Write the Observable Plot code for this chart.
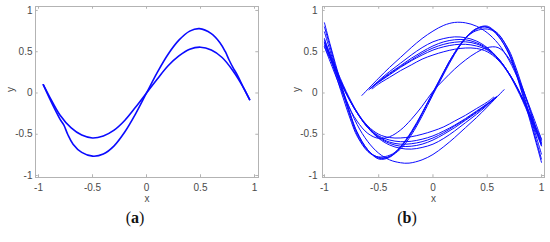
<!DOCTYPE html>
<html>
<head>
<meta charset="utf-8">
<script src="https://cdn.jsdelivr.net/npm/d3@7"></script>
<script src="https://cdn.jsdelivr.net/npm/@observablehq/plot@0.6"></script>
<style>
  body { margin: 0; background: #fff; }
  #wrap { position: relative; width: 550px; height: 242px; overflow: hidden; background: #fff; }
  .panel { position: absolute; top: 0; }
  .cap { position: absolute; top: 209px; width: 40px; margin-left: -20px; text-align: center;
         font-family: "Liberation Serif", "DejaVu Serif", serif; font-size: 16px; color: #111; }
</style>
</head>
<body>
<div id="wrap">
  <div id="pa" class="panel" style="left:0px"></div>
  <div id="pb" class="panel" style="left:275px"></div>
  <div class="cap" style="left:135px">(<b>a</b>)</div>
  <div class="cap" style="left:407px">(<b>b</b>)</div>
</div>
<script>
// ---------- tick values ----------
const xTicks = [-1, -0.5, 0, 0.5, 1];
const yTicks = [-1, -0.5, 0, 0.5, 1];
const xLabel = "x";
const yLabel = "y";

// ---------- panel (a) ----------
const aInner = [[-0.956,0.10],[-0.9,-0.04],[-0.8,-0.27],[-0.7,-0.42],[-0.6,-0.51],[-0.5,-0.545],[-0.4,-0.52],[-0.3,-0.45],[-0.2,-0.33],[-0.1,-0.17],[0,0.0],[0.1,0.17],[0.2,0.33],[0.3,0.45],[0.4,0.53],[0.5,0.555],[0.6,0.52],[0.7,0.43],[0.8,0.27],[0.9,0.06],[0.955,-0.08]];
const aOuter = [[-0.956,0.10],[-0.9,-0.06],[-0.84,-0.22],[-0.8,-0.32],[-0.765,-0.39],[-0.73,-0.50],[-0.68,-0.62],[-0.6,-0.72],[-0.5,-0.765],[-0.4,-0.74],[-0.3,-0.64],[-0.2,-0.47],[-0.1,-0.25],[0,0.0],[0.1,0.25],[0.2,0.47],[0.3,0.64],[0.4,0.75],[0.49,0.78],[0.6,0.72],[0.68,0.61],[0.73,0.50],[0.765,0.40],[0.8,0.31],[0.84,0.22],[0.9,0.06],[0.955,-0.08]];

// ---------- panel (b) ----------
const bN1 = [[-1,0.85],[-0.95,0.60],[-0.9,0.36],[-0.85,0.13],[-0.8,-0.09],[-0.75,-0.30],[-0.7,-0.47],[-0.6,-0.69],[-0.5,-0.80],[-0.4,-0.78],[-0.3,-0.66],[-0.2,-0.48],[-0.1,-0.25],[0,0.0],[0.1,0.25],[0.2,0.48],[0.3,0.66],[0.4,0.78],[0.5,0.81],[0.6,0.70],[0.7,0.47],[0.75,0.30],[0.8,0.09],[0.85,-0.13],[0.9,-0.36],[0.95,-0.60],[1,-0.84]];
const bN2 = [[-1,0.74],[-0.95,0.52],[-0.9,0.30],[-0.85,0.08],[-0.8,-0.13],[-0.75,-0.33],[-0.7,-0.50],[-0.6,-0.70],[-0.5,-0.78],[-0.42,-0.78],[-0.3,-0.68],[-0.2,-0.51],[-0.1,-0.28],[0,-0.02],[0.1,0.23],[0.2,0.47],[0.3,0.66],[0.4,0.77],[0.48,0.80],[0.6,0.72],[0.7,0.50],[0.75,0.33],[0.8,0.13],[0.85,-0.08],[0.9,-0.30],[0.95,-0.52],[1,-0.74]];
const bN3 = [[-1,0.62],[-0.95,0.44],[-0.9,0.24],[-0.85,0.03],[-0.8,-0.17],[-0.75,-0.36],[-0.7,-0.52],[-0.6,-0.71],[-0.52,-0.77],[-0.44,-0.77],[-0.35,-0.72],[-0.25,-0.58],[-0.15,-0.38],[-0.05,-0.12],[0.05,0.12],[0.15,0.38],[0.25,0.58],[0.35,0.72],[0.44,0.77],[0.52,0.77],[0.6,0.71],[0.7,0.52],[0.75,0.36],[0.8,0.17],[0.85,-0.03],[0.9,-0.24],[0.95,-0.44],[1,-0.62]];
const bN4 = [[-1,0.80],[-0.95,0.57],[-0.9,0.33],[-0.85,0.10],[-0.8,-0.11],[-0.75,-0.31],[-0.7,-0.48],[-0.6,-0.69],[-0.5,-0.79],[-0.4,-0.77],[-0.3,-0.65],[-0.2,-0.47],[-0.1,-0.24],[0,0.01],[0.1,0.26],[0.2,0.49],[0.3,0.67],[0.4,0.78],[0.5,0.80],[0.6,0.69],[0.7,0.48],[0.75,0.31],[0.8,0.11],[0.85,-0.10],[0.9,-0.33],[0.95,-0.57],[1,-0.80]];
const bInner = [[-1,0.56],[-0.9,0.22],[-0.8,-0.10],[-0.7,-0.34],[-0.6,-0.49],[-0.5,-0.55],[-0.4,-0.53],[-0.3,-0.45],[-0.2,-0.32],[-0.1,-0.16],[0,0.02],[0.1,0.16],[0.2,0.29],[0.3,0.40],[0.4,0.49],[0.5,0.55],[0.6,0.55],[0.7,0.42],[0.8,0.14],[0.9,-0.20],[1,-0.56]];
const bTop = [[-0.655,-0.03],[-0.5,0.18],[-0.4,0.31],[-0.3,0.43],[-0.2,0.55],[-0.1,0.66],[0,0.75],[0.1,0.82],[0.2,0.855],[0.3,0.85],[0.4,0.81],[0.5,0.73],[0.6,0.60],[0.7,0.40],[0.8,0.12],[0.9,-0.22],[0.95,-0.43],[1,-0.64]];
const bBot = [[0.655,0.04],[0.5,-0.17],[0.4,-0.30],[0.3,-0.42],[0.2,-0.54],[0.1,-0.65],[0,-0.745],[-0.1,-0.81],[-0.22,-0.85],[-0.3,-0.845],[-0.4,-0.81],[-0.5,-0.73],[-0.6,-0.59],[-0.7,-0.38],[-0.8,-0.08],[-0.9,0.26],[-0.95,0.46],[-1,0.66]];
const bUp1 = [[-0.59,0.04],[-0.5,0.15],[-0.4,0.26],[-0.3,0.36],[-0.2,0.46],[-0.1,0.55],[0,0.62],[0.1,0.66],[0.2,0.68],[0.3,0.67],[0.4,0.63],[0.5,0.55],[0.6,0.42],[0.7,0.23],[0.8,-0.02],[0.9,-0.32],[0.95,-0.48],[1,-0.64]];
const bUp2 = [[-0.58,0.05],[-0.5,0.14],[-0.4,0.24],[-0.3,0.33],[-0.2,0.42],[-0.1,0.50],[0,0.57],[0.1,0.62],[0.2,0.645],[0.3,0.645],[0.4,0.61],[0.5,0.54],[0.6,0.42],[0.7,0.24],[0.8,0.0],[0.9,-0.30],[0.95,-0.46],[1,-0.61]];
const bUp3 = [[-0.57,0.06],[-0.5,0.13],[-0.4,0.22],[-0.3,0.31],[-0.2,0.39],[-0.1,0.46],[0,0.52],[0.1,0.56],[0.2,0.585],[0.3,0.59],[0.4,0.57],[0.5,0.52],[0.6,0.41],[0.7,0.24],[0.8,0.01],[0.9,-0.28],[0.95,-0.44],[1,-0.58]];
const bUp4 = [[-0.58,0.05],[-0.5,0.135],[-0.4,0.23],[-0.3,0.32],[-0.2,0.40],[-0.1,0.48],[0,0.545],[0.1,0.59],[0.2,0.615],[0.3,0.62],[0.4,0.595],[0.5,0.53],[0.6,0.42],[0.7,0.24],[0.8,0.0],[0.9,-0.29],[0.95,-0.45],[1,-0.60]];
const bUp5 = [[-0.56,0.05],[-0.5,0.11],[-0.4,0.19],[-0.3,0.27],[-0.2,0.34],[-0.1,0.41],[0,0.46],[0.1,0.50],[0.2,0.53],[0.3,0.545],[0.4,0.54],[0.5,0.50],[0.6,0.40],[0.7,0.23],[0.8,0.0],[0.9,-0.27],[0.95,-0.42],[1,-0.56]];
const bLo1 = [[0.59,-0.04],[0.5,-0.15],[0.4,-0.26],[0.3,-0.36],[0.2,-0.46],[0.1,-0.55],[0,-0.62],[-0.1,-0.66],[-0.2,-0.68],[-0.3,-0.67],[-0.4,-0.63],[-0.5,-0.55],[-0.6,-0.42],[-0.7,-0.23],[-0.8,0.02],[-0.9,0.32],[-0.95,0.48],[-1,0.64]];
const bLo2 = [[0.58,-0.05],[0.5,-0.14],[0.4,-0.24],[0.3,-0.33],[0.2,-0.42],[0.1,-0.50],[0,-0.57],[-0.1,-0.62],[-0.2,-0.645],[-0.3,-0.645],[-0.4,-0.61],[-0.5,-0.54],[-0.6,-0.42],[-0.7,-0.24],[-0.8,0.0],[-0.9,0.30],[-0.95,0.46],[-1,0.61]];
const bLo3 = [[0.57,-0.06],[0.5,-0.13],[0.4,-0.22],[0.3,-0.31],[0.2,-0.39],[0.1,-0.46],[0,-0.52],[-0.1,-0.56],[-0.2,-0.585],[-0.3,-0.59],[-0.4,-0.57],[-0.5,-0.52],[-0.6,-0.41],[-0.7,-0.24],[-0.8,-0.01],[-0.9,0.28],[-0.95,0.44],[-1,0.58]];
const bLo4 = [[0.58,-0.05],[0.5,-0.135],[0.4,-0.23],[0.3,-0.32],[0.2,-0.40],[0.1,-0.48],[0,-0.545],[-0.1,-0.59],[-0.2,-0.615],[-0.3,-0.62],[-0.4,-0.595],[-0.5,-0.53],[-0.6,-0.42],[-0.7,-0.24],[-0.8,0.0],[-0.9,0.29],[-0.95,0.45],[-1,0.60]];
const bLo5 = [[0.56,-0.05],[0.5,-0.11],[0.4,-0.19],[0.3,-0.27],[0.2,-0.34],[0.1,-0.41],[0,-0.46],[-0.1,-0.50],[-0.2,-0.53],[-0.3,-0.545],[-0.4,-0.54],[-0.5,-0.50],[-0.6,-0.40],[-0.7,-0.23],[-0.8,0.0],[-0.9,0.27],[-0.95,0.42],[-1,0.56]];

function rows(curves) {
  const out = [];
  curves.forEach((c, i) => c.forEach(([x, y]) => out.push({id: i, x, y})));
  return out;
}

function panel({curves, xDomain, yDomain, width, marginLeft, marginRight, yPad, yLabelDx, sw}) {
  const [x0, x1] = xDomain, [y0, y1] = yDomain;
  const tx = (x1 - x0) * 0.012, ty = (y1 - y0) * 0.016;
  return Plot.plot({
    width, height: 210,
    marginLeft, marginRight, marginTop: 6, marginBottom: 33,
    x: {domain: xDomain},
    y: {domain: yDomain},
    style: {fontFamily: "Liberation Sans, Arial, sans-serif", fontSize: "10px", color: "#4a4a4a", background: "#fff"},
    marks: [
      Plot.frame({stroke: "#b3b3b3"}),
      Plot.ruleX(xTicks, {x: d => d, y1: y0, y2: y0 + ty, stroke: "#b3b3b3"}),
      Plot.ruleX(xTicks, {x: d => d, y1: y1 - ty, y2: y1, stroke: "#b3b3b3"}),
      Plot.ruleY(yTicks, {y: d => d, x1: x0, x2: x0 + tx, stroke: "#b3b3b3"}),
      Plot.ruleY(yTicks, {y: d => d, x1: x1 - tx, x2: x1, stroke: "#b3b3b3"}),
      Plot.axisX({ticks: xTicks, tickSize: 0, tickPadding: 6, tickFormat: d => String(d), label: null}),
      Plot.axisY({ticks: yTicks, tickSize: 0, tickPadding: yPad, tickFormat: d => String(d), label: null}),
      Plot.text([xLabel], {frameAnchor: "bottom", dy: 24, fill: "#4a4a4a"}),
      Plot.text([yLabel], {frameAnchor: "left", dx: yLabelDx, rotate: -90, fill: "#4a4a4a"}),
      Plot.line(rows(curves), {x: "x", y: "y", z: "id", stroke: "#0a0aff", strokeWidth: sw, curve: "catmull-rom"})
    ]
  });
}

document.getElementById("pa").appendChild(panel({
  curves: [aInner, aOuter],
  xDomain: [-1.028, 1.037], yDomain: [-1.024, 1.048],
  width: 275, marginLeft: 35, marginRight: 17, yPad: 3, yLabelDx: -25, sw: 1.6
}));
document.getElementById("pb").appendChild(panel({
  curves: [bN1, bN2, bN3, bN4, bInner, bTop, bBot, bUp1, bUp2, bUp3, bUp4, bUp5, bLo1, bLo2, bLo3, bLo4, bLo5],
  xDomain: [-1.018, 1.028], yDomain: [-1.024, 1.048],
  width: 275, marginLeft: 47, marginRight: 6, yPad: 5, yLabelDx: -26, sw: 1
}));
</script>
</body>
</html>
